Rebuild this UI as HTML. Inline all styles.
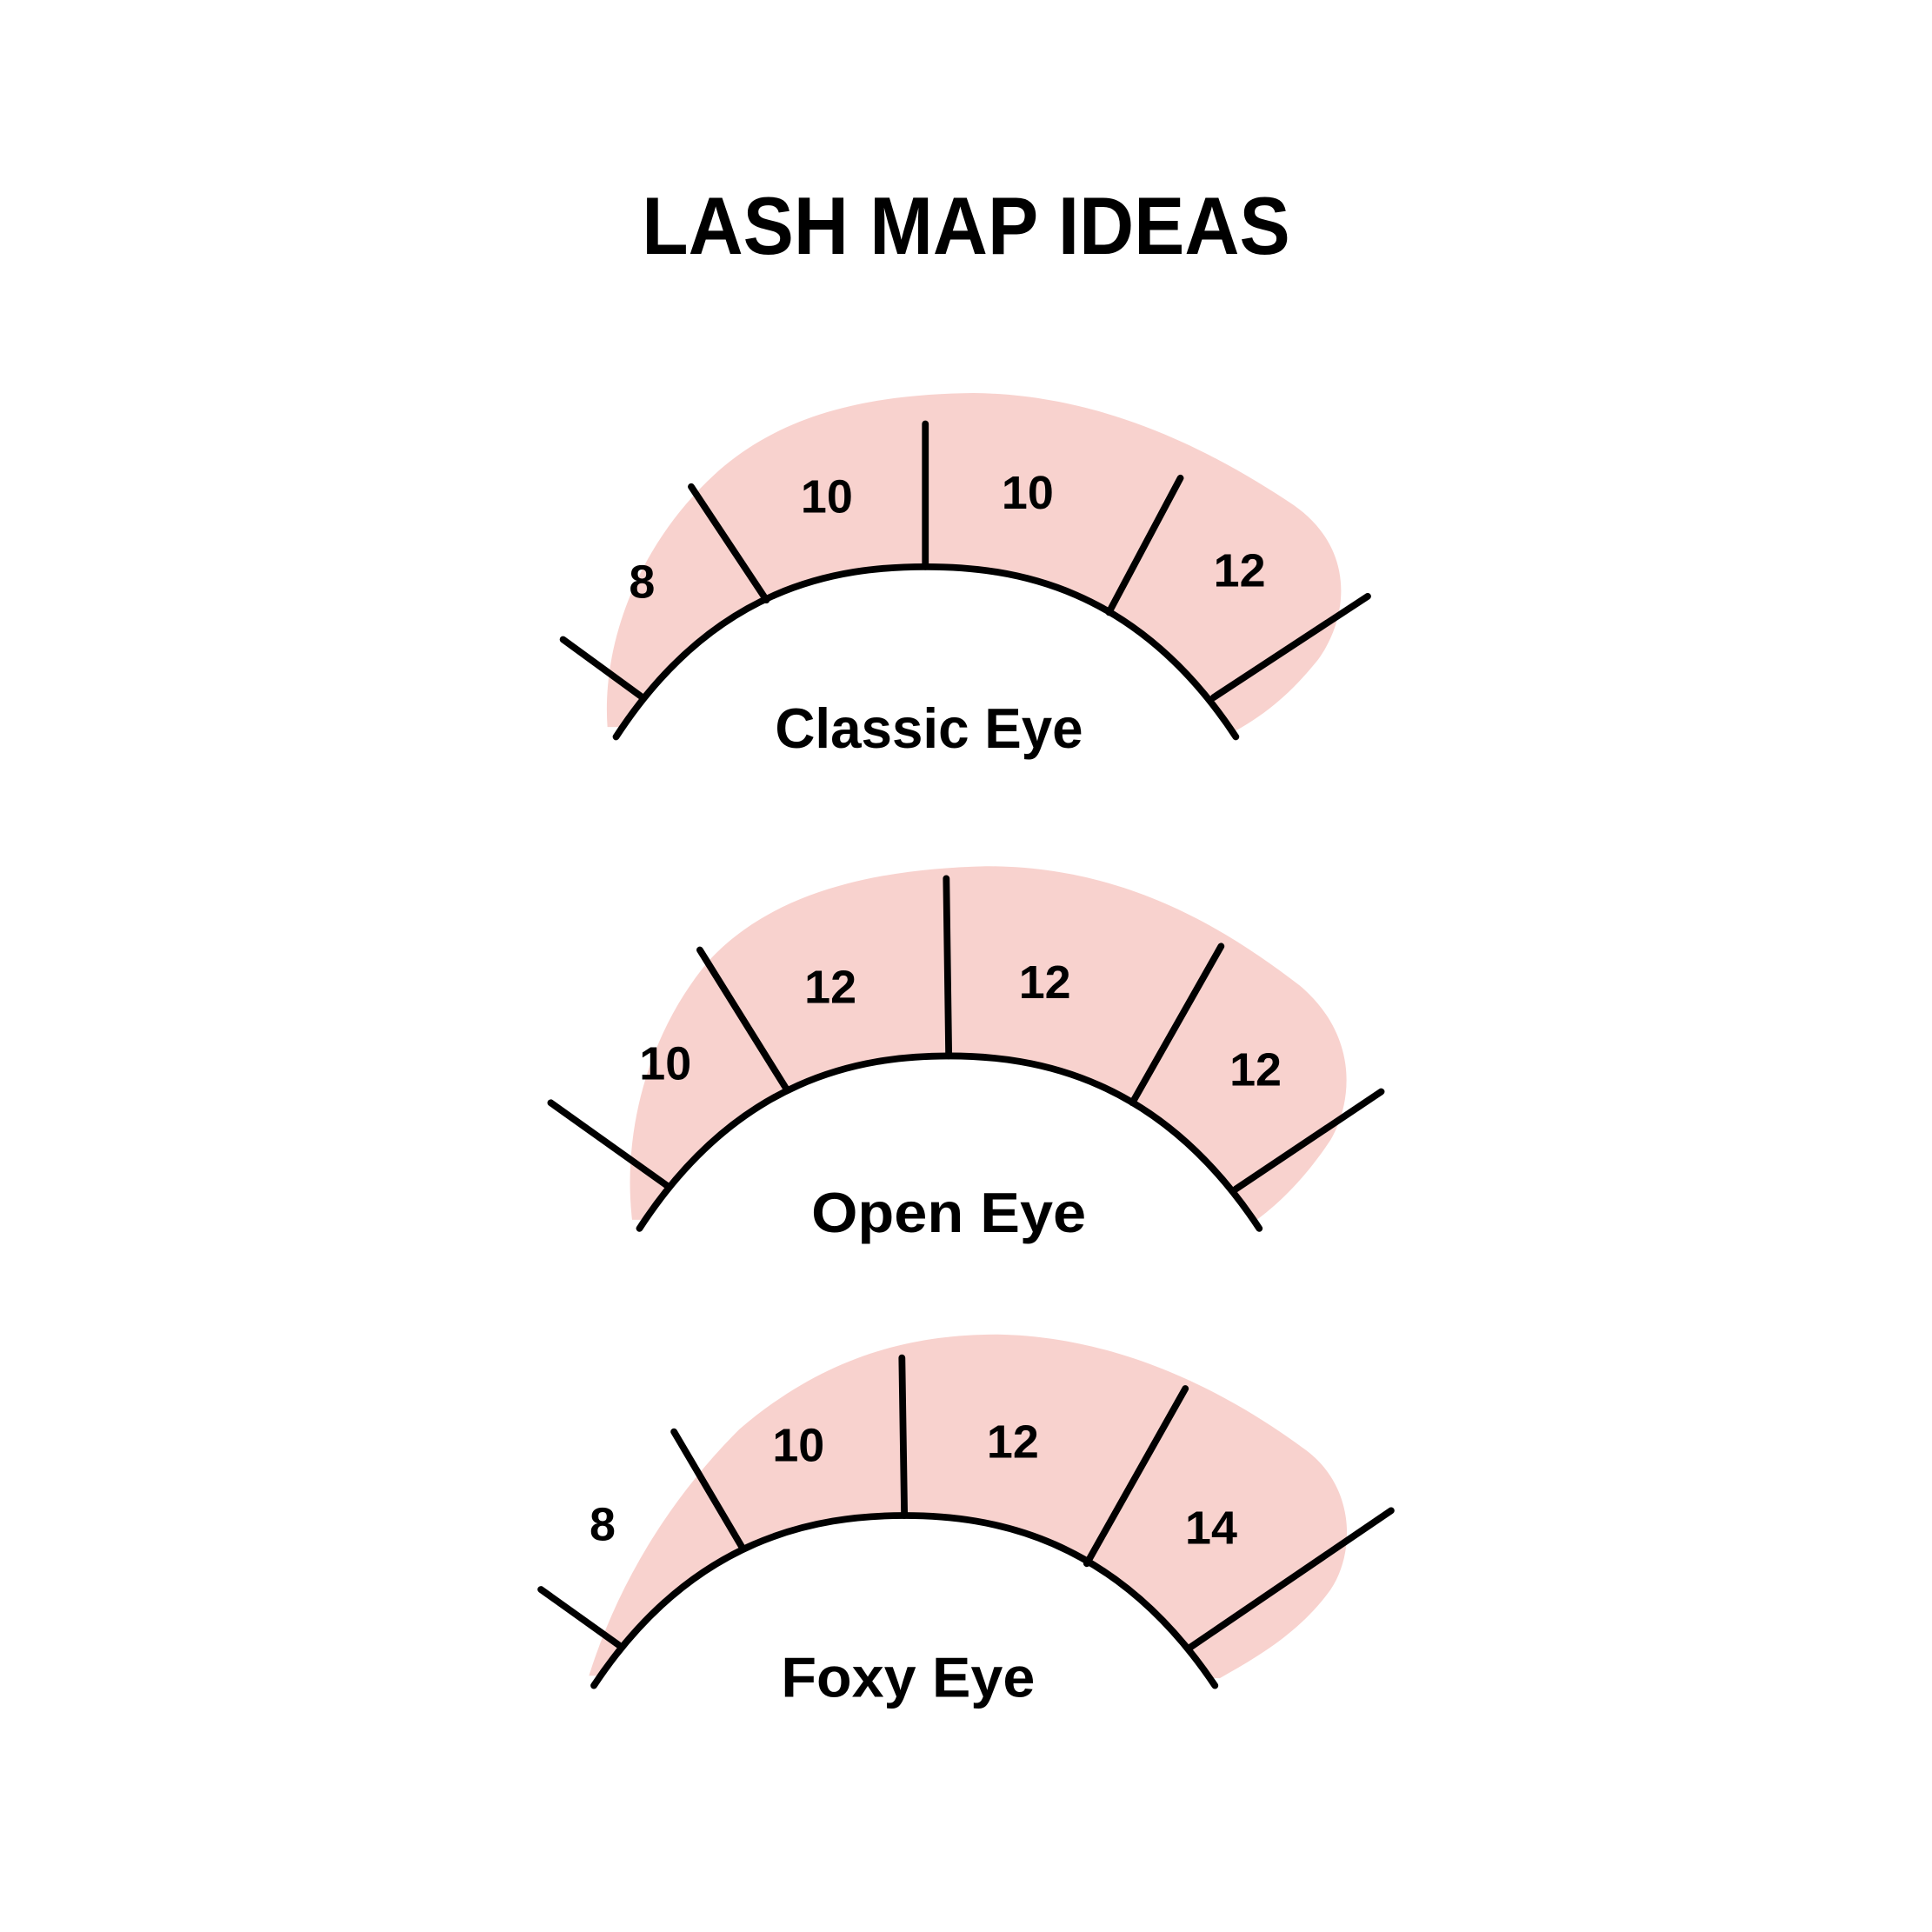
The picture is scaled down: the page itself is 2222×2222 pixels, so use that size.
<!DOCTYPE html>
<html><head><meta charset="utf-8"><style>
html,body{margin:0;padding:0;background:#fff;}
svg{display:block;}
text{font-family:"Liberation Sans",sans-serif;font-weight:bold;fill:#000;text-anchor:middle;}
</style></head><body>
<svg width="2222" height="2222" viewBox="0 0 1568 1568" xmlns="http://www.w3.org/2000/svg">
<rect width="1568" height="1568" fill="#fff"/>
<text x="784" y="206" font-size="66" textLength="526" lengthAdjust="spacingAndGlyphs">LASH MAP IDEAS</text>

<!-- Classic -->
<path d="M493,590 C488,520 520,440 580,385 C640,330 720,320 790,319 C900,320 990,370 1050,410 C1100,445 1095,500 1070,535 C1050,560 1030,578 1003,593 Z" fill="#f8d2ce"/>
<path d="M500,598 C580,475 680,460 751,460 C822,460 922,475 1003,598 L1003,720 L500,720 Z" fill="#fff"/>
<g stroke="#000" stroke-width="5.5" stroke-linecap="round" fill="none">
<path d="M500,598 C580,475 680,460 751,460 C822,460 922,475 1003,598"/>
<line x1="457" y1="519" x2="520" y2="565"/>
<line x1="561" y1="395" x2="622" y2="487"/>
<line x1="751" y1="344" x2="751" y2="460"/>
<line x1="958" y1="388" x2="900" y2="497"/>
<line x1="1110" y1="484" x2="985" y2="566"/>
</g>
<g font-size="38">
<text x="521" y="485">8</text><text x="671" y="416">10</text><text x="834" y="413">10</text><text x="1006" y="476">12</text>
</g>
<text x="754" y="607" font-size="46" textLength="250" lengthAdjust="spacingAndGlyphs">Classic Eye</text>

<!-- Open -->
<path d="M513,990 C505,920 525,840 575,780 C630,720 720,705 800,703 C910,703 990,750 1055,800 C1100,838 1100,890 1080,925 C1060,955 1040,975 1020,990 Z" fill="#f8d2ce"/>
<path d="M519,997 C599,874 699,857 770,857 C841,857 941,874 1022,997 L1022,1100 L519,1100 Z" fill="#fff"/>
<g stroke="#000" stroke-width="5.5" stroke-linecap="round" fill="none">
<path d="M519,997 C599,874 699,857 770,857 C841,857 941,874 1022,997"/>
<line x1="447" y1="895" x2="541" y2="962"/>
<line x1="568" y1="771" x2="639" y2="885"/>
<line x1="768" y1="713" x2="770" y2="857"/>
<line x1="991" y1="768" x2="919" y2="895"/>
<line x1="1121" y1="886" x2="1003" y2="965"/>
</g>
<g font-size="38">
<text x="540" y="876">10</text><text x="674" y="814">12</text><text x="848" y="810">12</text><text x="1019" y="881">12</text>
</g>
<text x="770" y="1000" font-size="46" textLength="223" lengthAdjust="spacingAndGlyphs">Open Eye</text>

<!-- Foxy -->
<path d="M478,1360 C500,1290 540,1220 600,1160 C670,1100 740,1083 810,1083 C920,1085 1010,1140 1060,1177 C1100,1207 1100,1260 1080,1290 C1055,1325 1020,1345 990,1362 Z" fill="#f8d2ce"/>
<path d="M482,1368 C562,1247 663,1230 734,1230 C805,1230 905,1247 986,1368 L986,1460 L482,1460 Z" fill="#fff"/>
<g stroke="#000" stroke-width="5.5" stroke-linecap="round" fill="none">
<path d="M482,1368 C562,1247 663,1230 734,1230 C805,1230 905,1247 986,1368"/>
<line x1="439" y1="1290" x2="502" y2="1335"/>
<line x1="547" y1="1162" x2="603" y2="1257"/>
<line x1="732" y1="1102" x2="734" y2="1230"/>
<line x1="962" y1="1127" x2="882" y2="1269"/>
<line x1="1129" y1="1226" x2="966" y2="1337"/>
</g>
<g font-size="38">
<text x="489" y="1250">8</text><text x="648" y="1186">10</text><text x="822" y="1183">12</text><text x="983" y="1253">14</text>
</g>
<text x="737" y="1377" font-size="46" textLength="206" lengthAdjust="spacingAndGlyphs">Foxy Eye</text>
</svg>
</body></html>
